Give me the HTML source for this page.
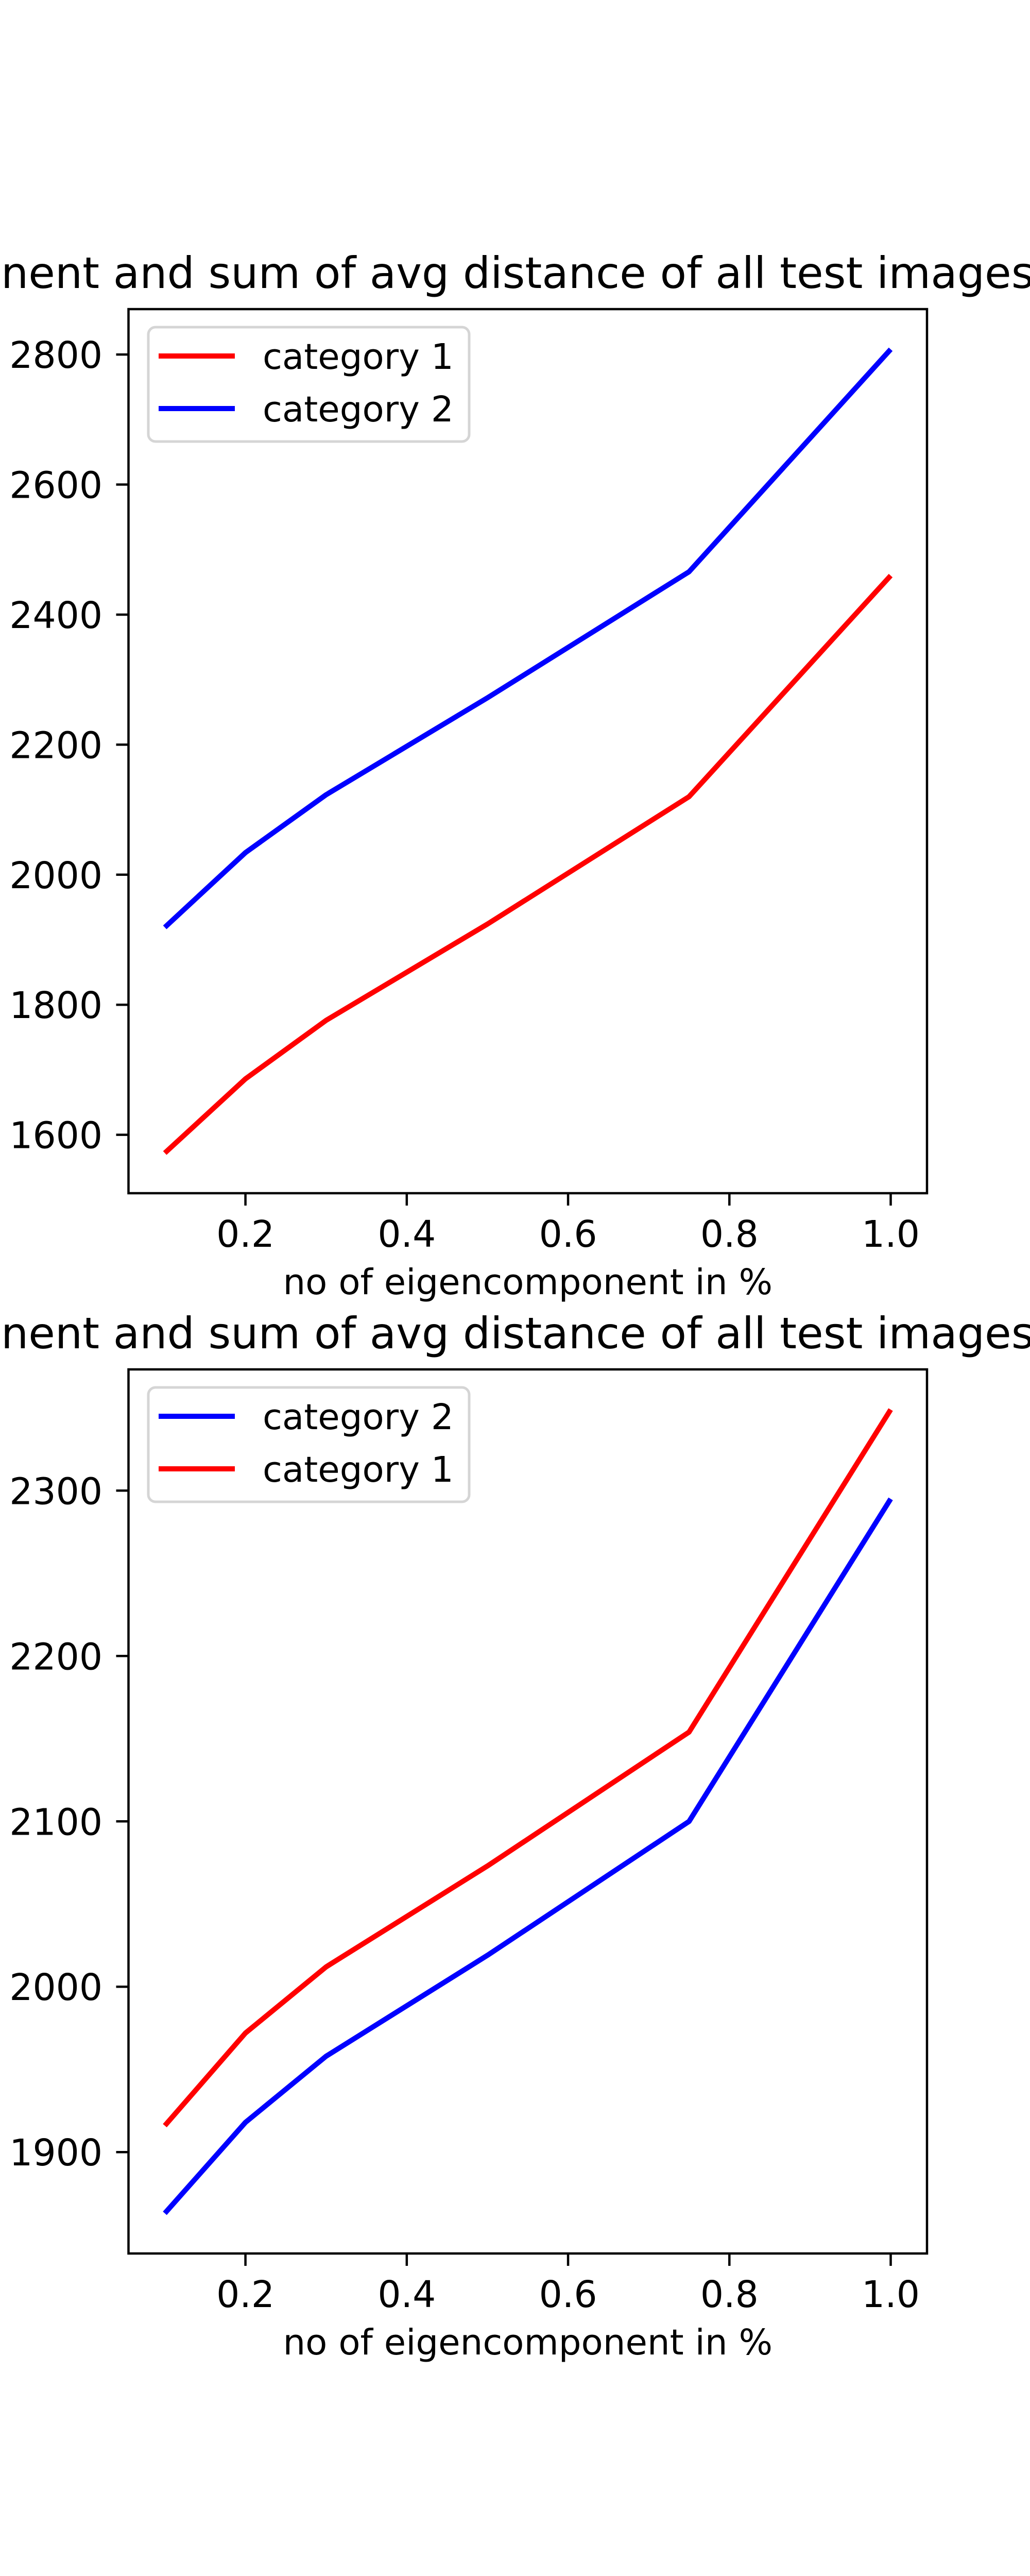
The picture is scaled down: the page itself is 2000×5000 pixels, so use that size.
<!DOCTYPE html>
<html><head><meta charset="utf-8"><style>html,body{margin:0;padding:0;background:#fff;}svg{display:block;}</style></head>
<body>
<svg id="fig" width="2000" height="5000" viewBox="0 0 2000 5000" xmlns="http://www.w3.org/2000/svg" font-family="DejaVu Sans, Liberation Sans, sans-serif">
<rect width="2000" height="5000" fill="#fff"/>
</svg>
<script>
const xValues = [0.1, 0.2, 0.3, 0.5, 0.75, 1.0];
const xTicks = [0.2, 0.4, 0.6, 0.8, 1.0];
const xTickLabels = ["0.2", "0.4", "0.6", "0.8", "1.0"];
const p1Cat1 = [1572, 1686, 1776, 1924, 2120, 2460];
const p1Cat2 = [1919, 2034, 2123, 2272, 2466, 2808];
const p1YTicks = [1600, 1800, 2000, 2200, 2400, 2600, 2800];
const p2Cat2 = [1863, 1918, 1958, 2019, 2100, 2295];
const p2Cat1 = [1916, 1972, 2012, 2073, 2154, 2349];
const p2YTicks = [1900, 2000, 2100, 2200, 2300];
const titleText = "nent and sum of avg distance of all test images";
const xLabelText = "no of eigencomponent in %";

const NS = "http://www.w3.org/2000/svg";
const svg = document.getElementById('fig');
function mk(tag, attrs, parent) {
  const e = document.createElementNS(NS, tag);
  for (const k in attrs) e.setAttribute(k, attrs[k]);
  (parent || svg).appendChild(e);
  return e;
}
const L = 249.5, R = 1800, H = 1716;

function drawPlot(top, name, series, yTicks) {
  const g = mk('g', {});
  
  
  const bottom = top + H;
  let all = [];
  series.forEach(s => all = all.concat(s.values));
  const ymin0 = Math.min(...all), ymax0 = Math.max(...all);
  const ym = (ymax0 - ymin0) * 0.05;
  const ymin = ymin0 - ym, ymax = ymax0 + ym;
  const xmin0 = Math.min(...xValues), xmax0 = Math.max(...xValues);
  const xm = (xmax0 - xmin0) * 0.05;
  const xmin = xmin0 - xm, xmax = xmax0 + xm;
  const X = v => L + (v - xmin) / (xmax - xmin) * (R - L);
  const Y = v => bottom - (v - ymin) / (ymax - ymin) * H;

  const t = mk('text', {x: 2, y: top - 41, 'font-size': 84, fill: '#000'}, g);
  t.textContent = titleText;
  
  

  series.forEach(s => {
    const pts = xValues.map((xv, i) => X(xv).toFixed(1) + ',' + Y(s.values[i]).toFixed(1)).join(' ');
    const pl = mk('polyline', {points: pts, fill: 'none', stroke: s.color, 'stroke-width': 10, 'stroke-linejoin': 'round'}, g);
    
    
  });

  const ax = mk('rect', {x: L, y: top, width: R - L, height: H, fill: 'none', stroke: '#000', 'stroke-width': 4.5}, g);
  
  

  xTicks.forEach((v, i) => {
    const tk = mk('line', {x1: X(v), x2: X(v), y1: bottom, y2: bottom + 24, stroke: '#000', 'stroke-width': 4.5}, g);
    
    
    const tl = mk('text', {x: X(v), y: bottom + 104, 'font-size': 71, 'text-anchor': 'middle', fill: '#000'}, g);
    tl.textContent = xTickLabels[i];
    
    
  });
  yTicks.forEach(v => {
    const tk = mk('line', {x1: L - 24, x2: L, y1: Y(v), y2: Y(v), stroke: '#000', 'stroke-width': 4.5}, g);
    
    
    const tl = mk('text', {x: 199, y: Y(v) + 26, 'font-size': 71, 'text-anchor': 'end', fill: '#000'}, g);
    tl.textContent = String(v);
    
    
  });
  const xl = mk('text', {x: (L + R) / 2, y: bottom + 196, 'font-size': 69, 'text-anchor': 'middle', fill: '#000'}, g);
  xl.textContent = xLabelText;
  
  

  const lg = mk('g', {}, g);
  
  
  const lb = mk('rect', {x: 288, y: top + 35, width: 623, height: 222, rx: 14, fill: '#fff', 'fill-opacity': 0.8, stroke: '#d5d5d5', 'stroke-width': 5}, lg);
  
  
  series.forEach((s, i) => {
    const yy = top + 91 + i * 102;
    const ll = mk('line', {x1: 308, x2: 456, y1: yy, y2: yy, stroke: s.color, 'stroke-width': 10}, lg);
    
    
    const lt = mk('text', {x: 510, y: yy + 25, 'font-size': 69, fill: '#000'}, lg);
    lt.textContent = s.label;
    
    
  });
}

drawPlot(600, 'plot-top', [
  {name: 'category-1', label: 'category 1', color: '#ff0000', values: p1Cat1},
  {name: 'category-2', label: 'category 2', color: '#0000ff', values: p1Cat2}
], p1YTicks);
drawPlot(2658, 'plot-bottom', [
  {name: 'category-2', label: 'category 2', color: '#0000ff', values: p2Cat2},
  {name: 'category-1', label: 'category 1', color: '#ff0000', values: p2Cat1}
], p2YTicks);
</script>
</body></html>
